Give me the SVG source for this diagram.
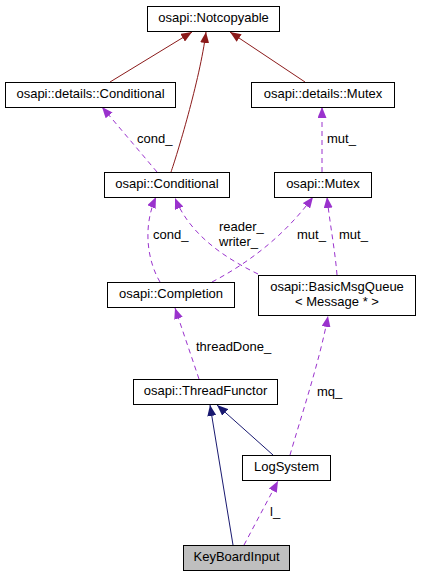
<svg xmlns="http://www.w3.org/2000/svg" width="421" height="576" viewBox="0 0 421 576">
<style>
text{font-family:"Liberation Sans",Arial,sans-serif;font-size:13px;fill:#000}
.n rect{fill:#fff;stroke:#000;stroke-width:1}
.n text{text-anchor:middle}
.red{fill:none;stroke:#8b1a1a;stroke-width:1}
.blue{fill:none;stroke:#191970;stroke-width:1}
.use{fill:none;stroke:#9a32cd;stroke-width:1;stroke-dasharray:5,4}
</style>
<defs>
<marker id="ar" markerUnits="userSpaceOnUse" markerWidth="11" markerHeight="9" refX="11" refY="4.5" orient="auto"><path d="M0,0 L11,4.5 L0,9 z" fill="#8b1a1a"/></marker>
<marker id="ab" markerUnits="userSpaceOnUse" markerWidth="11" markerHeight="9" refX="11" refY="4.5" orient="auto"><path d="M0,0 L11,4.5 L0,9 z" fill="#191970"/></marker>
<marker id="ap" markerUnits="userSpaceOnUse" markerWidth="11" markerHeight="9" refX="11" refY="4.5" orient="auto"><path d="M0,0 L11,4.5 L0,9 z" fill="#9a32cd"/></marker>
</defs>
<g id="edges">
<path class="red" d="M110,82 L192,32" marker-end="url(#ar)"/>
<path class="red" d="M171,172 C176,158 200,80 206,32" marker-end="url(#ar)"/>
<path class="red" d="M305,82 L230,32" marker-end="url(#ar)"/>
<path class="use" d="M157,172 L102,107" marker-end="url(#ap)"/>
<path class="use" d="M322,172 L322,107" marker-end="url(#ap)"/>
<path class="use" d="M160,282 C148,262 142,228 156,197" marker-end="url(#ap)"/>
<path class="use" d="M258,274 C225,258 190,235 175,198" marker-end="url(#ap)"/>
<path class="use" d="M212,282 C250,262 285,235 313,197" marker-end="url(#ap)"/>
<path class="use" d="M337,275 C335,250 330,225 327,197" marker-end="url(#ap)"/>
<path class="use" d="M199,379 L175,308" marker-end="url(#ap)"/>
<path class="use" d="M290,455 C300,420 320,360 328,316" marker-end="url(#ap)"/>
<path class="blue" d="M233,545 L210,405" marker-end="url(#ab)"/>
<path class="blue" d="M273,455 L217,405" marker-end="url(#ab)"/>
<path class="use" d="M244,545 L278,481" marker-end="url(#ap)"/>
<text x="137" y="143">cond_</text>
<text x="327" y="143">mut_</text>
<text x="153" y="239">cond_</text>
<text x="219" y="231">reader_</text>
<text x="219" y="246">writer_</text>
<text x="297" y="239">mut_</text>
<text x="339" y="239">mut_</text>
<text x="196" y="351">threadDone_</text>
<text x="317" y="396">mq_</text>
<text x="270" y="516">l_</text>
</g>
<g id="Notcopyable" class="n"><rect x="147.5" y="6.5" width="132" height="25"/><text x="213.5" y="22">osapi::Notcopyable</text></g>
<g id="detailsConditional" class="n"><rect x="5.5" y="82.5" width="170" height="25"/><text x="90.5" y="98">osapi::details::Conditional</text></g>
<g id="detailsMutex" class="n"><rect x="251.5" y="82.5" width="143" height="25"/><text x="323" y="98">osapi::details::Mutex</text></g>
<g id="Conditional" class="n"><rect x="104.5" y="172.5" width="125" height="25"/><text x="167" y="188">osapi::Conditional</text></g>
<g id="Mutex" class="n"><rect x="274.5" y="172.5" width="97" height="25"/><text x="323" y="188">osapi::Mutex</text></g>
<g id="Completion" class="n"><rect x="107.5" y="282.5" width="127" height="25"/><text x="171" y="298">osapi::Completion</text></g>
<g id="BasicMsgQueue" class="n"><rect x="258.5" y="275.5" width="157" height="40"/><text x="337" y="291">osapi::BasicMsgQueue</text><text x="337" y="306">&lt; Message * &gt;</text></g>
<g id="ThreadFunctor" class="n"><rect x="133.5" y="379.5" width="144" height="25"/><text x="205.5" y="395">osapi::ThreadFunctor</text></g>
<g id="LogSystem" class="n"><rect x="242.5" y="455.5" width="88" height="25"/><text x="286.5" y="471">LogSystem</text></g>
<g id="KeyBoardInput" class="n"><rect x="183.5" y="545.5" width="106" height="25" style="fill:#bfbfbf"/><text x="236.5" y="561">KeyBoardInput</text></g>
</svg>
